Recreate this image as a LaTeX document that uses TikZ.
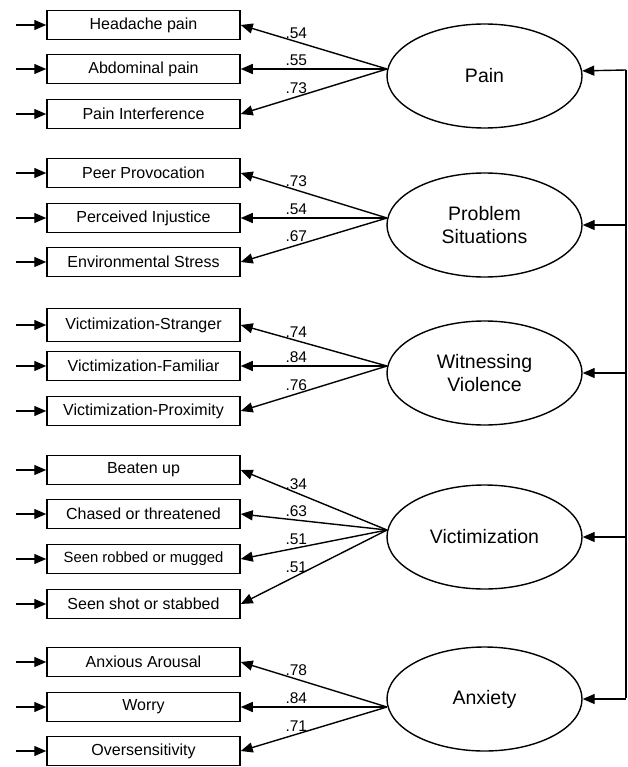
\documentclass[tikz,border=0pt]{standalone}
\usepackage{fontspec}
\setmainfont{Liberation Sans}
\usetikzlibrary{arrows.meta,shapes.geometric}
\begin{document}
\begin{tikzpicture}[x=1pt,y=-1pt,
  box/.style={draw,line width=1.5pt,minimum width=193pt,minimum height=29pt,inner sep=0pt,font=\fontsize{16}{19}\selectfont},
  lat/.style={draw,ellipse,line width=1.4pt,minimum width=195pt,minimum height=104pt,inner sep=0pt,align=center,font=\fontsize{19.5}{23}\selectfont},
  arr/.style={line width=1.4pt,-{Triangle[length=12pt,width=10pt]}},
  lab/.style={font=\fontsize{15.5}{18}\selectfont,inner sep=1pt,above=1.5pt,pos=0.62}]
\useasboundingbox (0,0) rectangle (628,767);

% observed variables
\node[box] (h1) at (143.5,25) {Headache pain};
\node[box] (h2) at (143.5,69) {Abdominal pain};
\node[box] (h3) at (143.5,114) {Pain Interference};
\node[box] (p1) at (143.5,173) {Peer Provocation};
\node[box] (p2) at (143.5,218) {Perceived Injustice};
\node[box] (p3) at (143.5,262) {Environmental Stress};
\node[box,minimum height=33pt] (w1) at (143.5,325) {Victimization-Stranger};
\node[box] (w2) at (143.5,366) {Victimization-Familiar};
\node[box] (w3) at (143.5,411) {Victimization-Proximity};
\node[box] (v1) at (143.5,470) {Beaten up};
\node[box] (v2) at (143.5,514) {Chased or threatened};
\node[box,font=\fontsize{14.8}{18}\selectfont] (v3) at (143.5,559) {Seen robbed or mugged};
\node[box] (v4) at (143.5,604) {Seen shot or stabbed};
\node[box] (a1) at (143.5,662) {Anxious Arousal};
\node[box] (a2) at (143.5,707) {Worry};
\node[box] (a3) at (143.5,751) {Oversensitivity};

% latent variables
\node[lat] (pain) at (484.5,76) {Pain};
\node[lat] (prob) at (484.5,225) {Problem\\Situations};
\node[lat] (wit) at (484.5,373) {Witnessing\\Violence};
\node[lat] (vic) at (484.5,537) {Victimization};
\node[lat] (anx) at (484.5,699) {Anxiety};

% convergence points
\coordinate (cpain) at (387,69);
\coordinate (cprob) at (387,218);
\coordinate (cwit) at (387,366);
\coordinate (cvic) at (387,530);
\coordinate (canx) at (387,707);

% error arrows
\foreach \n in {h1,h2,h3,p1,p2,p3,w1,w2,w3,v1,v2,v3,v4,a1,a2,a3}
  \draw[arr] ([xshift=-30pt]\n.west) -- (\n.west);

% loadings
\draw[arr] (cpain) -- node[lab]{.54} (h1.east);
\draw[arr] (cpain) -- node[lab]{.55} (h2.east);
\draw[arr] (cpain) -- node[lab]{.73} (h3.east);
\draw[arr] (cprob) -- node[lab]{.73} (p1.east);
\draw[arr] (cprob) -- node[lab]{.54} (p2.east);
\draw[arr] (cprob) -- node[lab]{.67} (p3.east);
\draw[arr] (cwit) -- node[lab]{.74} (w1.east);
\draw[arr] (cwit) -- node[lab]{.84} (w2.east);
\draw[arr] (cwit) -- node[lab]{.76} (w3.east);
\draw[arr] (cvic) -- node[lab]{.34} (v1.east);
\draw[arr] (cvic) -- node[lab]{.63} (v2.east);
\draw[arr] (cvic) -- node[lab]{.51} (v3.east);
\draw[arr] (cvic) -- node[lab]{.51} (v4.east);
\draw[arr] (canx) -- node[lab]{.78} (a1.east);
\draw[arr] (canx) -- node[lab]{.84} (a2.east);
\draw[arr] (canx) -- node[lab]{.71} (a3.east);

% right bus
\coordinate (bt) at (626,70);
\coordinate (bb) at (626,698);
\draw[line width=1.4pt] (bt) -- (bb);
\draw[arr] (bt) -- (pain.3.5);
\draw[arr] (prob.east -| bt) -- (prob.east);
\draw[arr] (wit.east -| bt) -- (wit.east);
\draw[arr] (vic.east -| bt) -- (vic.east);
\draw[arr] (anx.east -| bt) -- (anx.east);
\end{tikzpicture}
\end{document}
